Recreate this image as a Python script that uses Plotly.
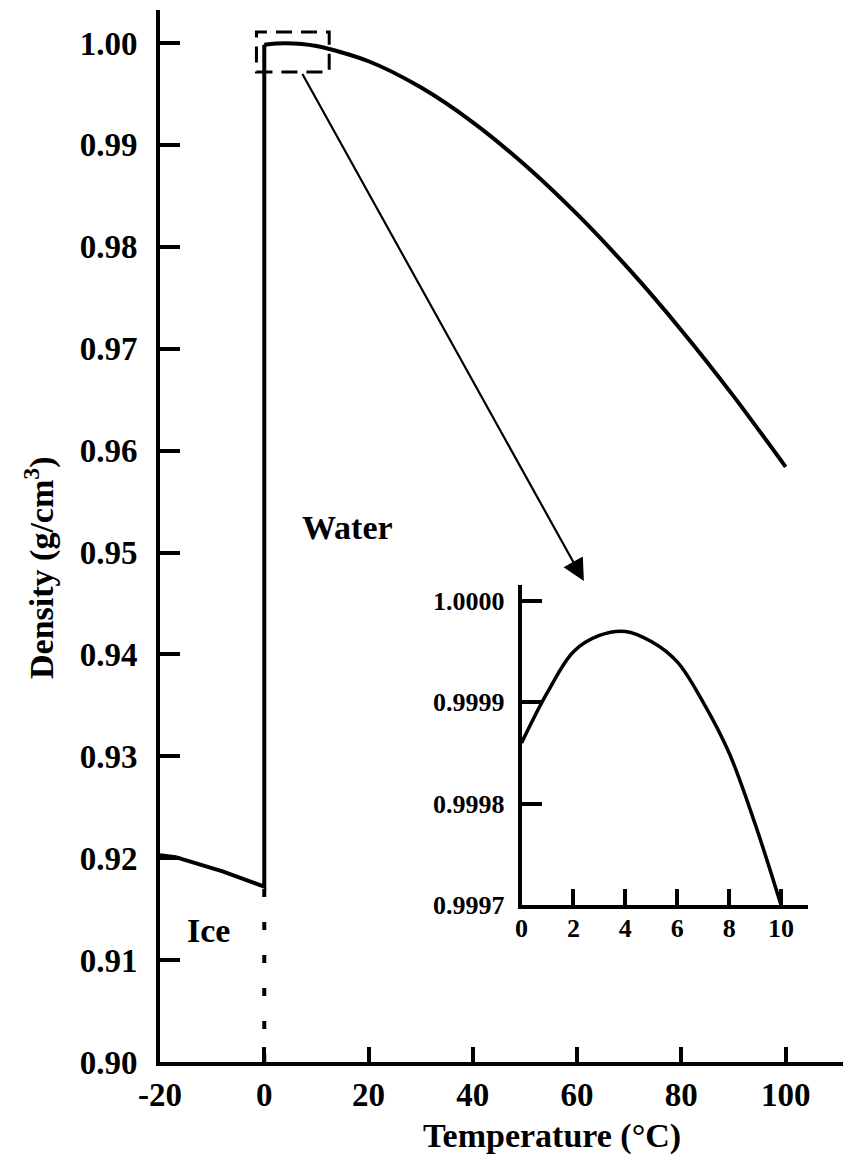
import plotly.graph_objects as go

# ---- data ----
ice_temp = [-20, -17, -8, 0]
ice_density = [0.9203, 0.9201, 0.9187, 0.9172]

water_temp = [0, 4, 10, 20, 30, 40, 50, 60, 70, 80, 90, 100]
water_density = [0.99984, 0.99997, 0.99970, 0.99821, 0.99565, 0.99222,
                 0.98803, 0.98320, 0.97778, 0.97182, 0.96535, 0.95840]

inset_temp = [0, 1, 2, 3, 4, 5, 6, 7, 8, 9, 10]
inset_density = [0.99986, 0.99991, 0.99995, 0.999966, 0.99997, 0.99996,
                 0.99994, 0.99990, 0.99985, 0.99978, 0.99970]

main_xticks = [-20, 0, 20, 40, 60, 80, 100]
main_xlabels = ["-20", "0", "20", "40", "60", "80", "100"]
main_yticks = [0.90, 0.91, 0.92, 0.93, 0.94, 0.95, 0.96, 0.97, 0.98, 0.99, 1.00]
inset_xticks = [0, 2, 4, 6, 8, 10]
inset_yticks = [0.9997, 0.9998, 0.9999, 1.0000]

FONT = "Liberation Serif"
W, H = 845, 1159
L, R, T, B = 160, 2, 10, 97

fig = go.Figure()

# ice branch plus the jump at the melting point
fig.add_trace(go.Scatter(
    x=ice_temp + [water_temp[0]],
    y=ice_density + [water_density[0]],
    mode="lines", line=dict(color="black", width=4),
    xaxis="x", yaxis="y", showlegend=False, hoverinfo="skip"))

# water branch
fig.add_trace(go.Scatter(
    x=water_temp, y=water_density,
    mode="lines", line=dict(color="black", width=4, shape="spline", smoothing=0.8),
    xaxis="x", yaxis="y", showlegend=False, hoverinfo="skip"))

# dotted line at the melting point
fig.add_trace(go.Scatter(
    x=[ice_temp[-1], ice_temp[-1]], y=[main_yticks[0], ice_density[-1]],
    mode="lines", line=dict(color="black", width=4, dash="8px,25px"),
    xaxis="x", yaxis="y", showlegend=False, hoverinfo="skip"))

# inset curve
fig.add_trace(go.Scatter(
    x=inset_temp, y=inset_density,
    mode="lines", line=dict(color="black", width=3.5, shape="spline", smoothing=1),
    xaxis="x2", yaxis="y2", showlegend=False, hoverinfo="skip"))

plot_w = W - L - R
plot_h = H - T - B

def px_x(p):
    return (p - L) / plot_w

def px_y(p):
    return (H - B - p) / plot_h

axis_common = dict(showline=True, linecolor="black", linewidth=4,
                   ticks="inside", tickcolor="black", tickwidth=4,
                   showgrid=False, zeroline=False)

fig.update_layout(
    width=W, height=H,
    margin=dict(l=L, r=R, t=T, b=B, pad=0),
    paper_bgcolor="white", plot_bgcolor="white",
    xaxis=dict(range=[-20, 111], tickvals=main_xticks, ticktext=main_xlabels, ticklen=15,
               tickfont=dict(family=FONT, size=33, color="black", weight="bold"),
               ticklabelstandoff=0, **axis_common),
    yaxis=dict(range=[0.90, 1.00324], tickvals=main_yticks, tickformat=".2f",
               ticklen=20,
               tickfont=dict(family=FONT, size=33, color="black", weight="bold"),
               ticklabelstandoff=12, **axis_common),
    xaxis2=dict(domain=[px_x(521.6), px_x(808)], anchor="y2", range=[0, 11.04],
                tickvals=inset_xticks, ticklen=16,
                tickfont=dict(family=FONT, size=26, color="black", weight="bold"),
                ticklabelstandoff=-3, **axis_common),
    yaxis2=dict(domain=[px_y(905), px_y(585)], anchor="x2",
                range=[0.9997, 1.0000158], tickvals=inset_yticks, tickformat=".4f",
                ticklen=20,
                tickfont=dict(family=FONT, size=26, color="black", weight="bold"),
                ticklabelstandoff=8, **axis_common),
)

# dashed zoom rectangle
fig.add_shape(type="rect", xref="x", yref="y", x0=-1.5, x1=12.45, y0=0.99715, y1=1.00108,
              line=dict(color="black", width=3, dash="16px,9px"), fillcolor="rgba(0,0,0,0)")

# arrow to inset
fig.add_annotation(x=61.3, y=0.9472, xref="x", yref="y",
                   ax=7.1, ay=0.99715, axref="x", ayref="y",
                   showarrow=True, arrowhead=2, arrowsize=2.0, arrowwidth=2.2,
                   arrowcolor="black", text=" ", font=dict(size=1))

fig.add_annotation(x=-10.7, y=0.91295, xref="x", yref="y", text="<b>Ice</b>",
                   showarrow=False, xanchor="center", yanchor="middle",
                   font=dict(family=FONT, size=34, color="black"))
fig.add_annotation(x=15.9, y=0.9525, xref="x", yref="y", text="<b>Water</b>",
                   showarrow=False, xanchor="center", yanchor="middle",
                   font=dict(family=FONT, size=34, color="black"))
fig.add_annotation(x=px_x(552), y=px_y(1136), xref="paper", yref="paper",
                   text="<b>Temperature (°C)</b>", showarrow=False,
                   xanchor="center", yanchor="middle",
                   font=dict(family=FONT, size=34, color="black"))
fig.add_annotation(x=px_x(39), y=px_y(568), xref="paper", yref="paper",
                   text="<b>Density (g/cm<sup>3</sup>)</b>", textangle=-90, showarrow=False,
                   xanchor="center", yanchor="middle",
                   font=dict(family=FONT, size=34, color="black"))

fig.write_html("out.html")
